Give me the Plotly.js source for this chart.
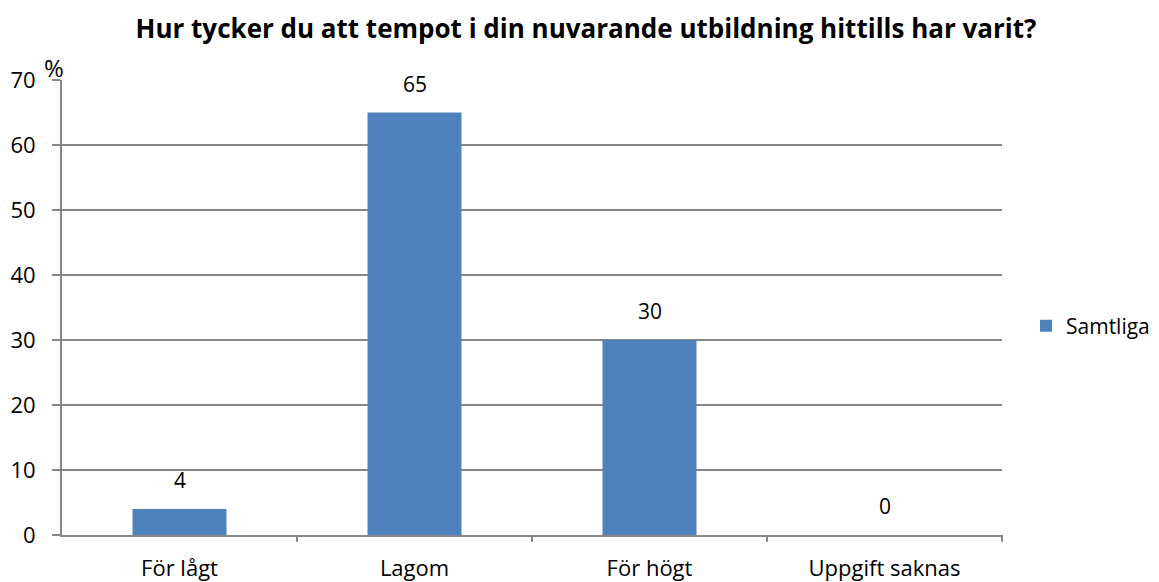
<!DOCTYPE html>
<html>
<head>
<meta charset="utf-8">
<script src="https://cdn.plot.ly/plotly-3.0.1.min.js"></script>
<style>html,body{margin:0;padding:0;background:#fff}#chart{width:1159px;height:582px}</style>
</head>
<body>
<div id="chart"></div>
<script>
const categories = ["För lågt", "Lagom", "För högt", "Uppgift saknas"];
const values = [4, 65, 30, 0];
const seriesName = "Samtliga";
const yTicks = [0, 10, 20, 30, 40, 50, 60, 70];
const titleText = "Hur tycker du att tempot i din nuvarande utbildning hittills har varit?";
const unitLabel = "%";

const FONT = "'Open Sans', sans-serif";
const FS = 21;

const trace = {
  type: "bar",
  x: categories,
  y: values,
  name: seriesName,
  width: 0.4,
  marker: {color: "#4F81BD"},
  showlegend: true,
  hoverinfo: "x+y"
};

const annotations = categories.map((c, i) => ({
  x: c, y: values[i], xref: "x", yref: "y",
  text: String(values[i]), showarrow: false,
  yanchor: "middle", yshift: 29,
  font: {family: FONT, size: FS, color: "#000"}
}));
annotations.push({
  xref: "paper", yref: "paper", x: 0, y: 1, xanchor: "right", yanchor: "bottom",
  xshift: 4, yshift: -6,
  text: unitLabel, showarrow: false,
  font: {family: FONT, size: 24, color: "#000"}
});

const layout = {
  width: 1159, height: 582,
  margin: {l: 62, r: 157, t: 80, b: 47},
  paper_bgcolor: "#fff", plot_bgcolor: "#fff",
  title: {text: "<b>" + titleText + "</b>", xref: "container", x: 0.5056, xanchor: "center",
          yref: "container", y: 0.95, yanchor: "middle",
          font: {family: FONT, size: 26, color: "#000"}},
  font: {family: FONT, size: FS, color: "#000"},
  xaxis: {
    type: "category",
    showline: true, linecolor: "#868686", linewidth: 2,
    ticks: "", showgrid: false, zeroline: false,
    ticklabelstandoff: 13,
    tickfont: {family: FONT, size: 22, color: "#000"},
    fixedrange: true
  },
  yaxis: {
    range: [0, 70], tickvals: yTicks, ticktext: yTicks.map(String),
    showline: true, linecolor: "#868686", linewidth: 2,
    ticks: "outside", ticklen: 8, tickcolor: "#868686", tickwidth: 2,
    showgrid: true, gridcolor: "#868686", gridwidth: 1.5,
    zeroline: false,
    ticklabelstandoff: 12,
    tickfont: {family: FONT, size: 22, color: "#000"},
    fixedrange: true
  },
  shapes: [1, 2, 3, 4].map(k => ({
    type: "line", xref: "paper", yref: "paper",
    x0: k / 4, x1: k / 4, y0: 0, y1: -0.015,
    line: {color: "#868686", width: 2}
  })),
  legend: {
    xref: "container", yref: "container",
    x: 1026 / 1159, xanchor: "left", y: 1 - 326 / 582, yanchor: "middle",
    font: {family: FONT, size: 21, color: "#000"},
    itemwidth: 30, bgcolor: "rgba(0,0,0,0)"
  },
  annotations: annotations
};

Plotly.newPlot("chart", [trace], layout, {displayModeBar: false, staticPlot: true});
</script>
</body>
</html>
